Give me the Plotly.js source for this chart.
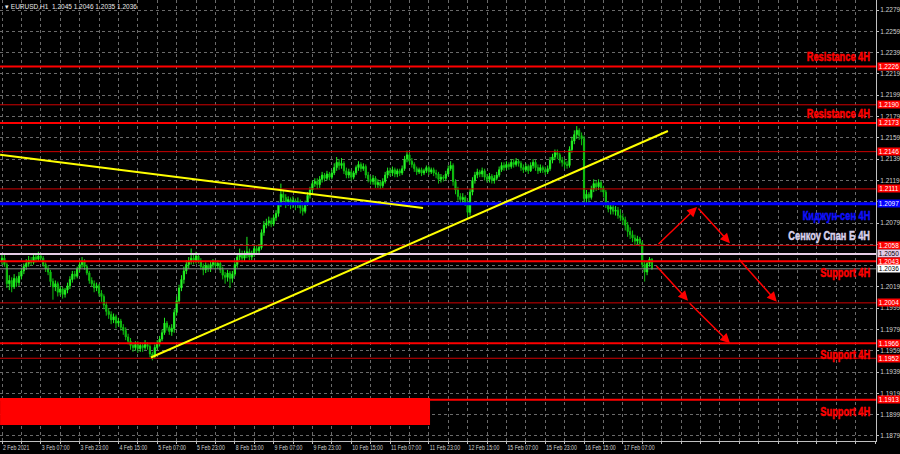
<!DOCTYPE html>
<html><head><meta charset="utf-8">
<script src="https://cdn.plot.ly/plotly-3.0.1.min.js"></script>
<style>html,body{margin:0;padding:0;background:#000;}#c{width:900px;height:454px;}</style>
</head><body><div id="c"></div>
<script>
// ---- data (EURUSD H1, first bar = 2 Feb 2021 15:00) ----
const barOpen = [
1.2043,1.2046,1.2040,1.2022,1.2025,1.2019,1.2027,1.2023,1.2029,1.2034,
1.2038,1.2041,1.2044,1.2042,1.2047,1.2045,1.2048,1.2046,1.2040,1.2036,
1.2033,1.2024,1.2019,1.2022,1.2014,1.2017,1.2012,1.2016,1.2020,1.2026,
1.2031,1.2029,1.2036,1.2040,1.2043,1.2038,1.2032,1.2025,1.2022,1.2018,
1.2020,1.2013,1.2010,1.2002,1.1996,1.1993,1.1988,1.1991,1.1985,1.1987,
1.1981,1.1978,1.1972,1.1968,1.1964,1.1962,1.1965,1.1961,1.1964,1.1962,
1.1965,1.1963,1.1956,1.1954,1.1962,1.1966,1.1970,1.1976,1.1985,1.1981,
1.1977,1.1980,1.1995,1.2006,1.2018,1.2026,1.2034,1.2040,1.2043,1.2046,
1.2044,1.2048,1.2043,1.2038,1.2035,1.2039,1.2036,1.2040,1.2042,1.2039,
1.2041,1.2035,1.2030,1.2028,1.2032,1.2027,1.2031,1.2040,1.2047,1.2050,
1.2046,1.2049,1.2052,1.2047,1.2050,1.2055,1.2053,1.2056,1.2070,1.2077,
1.2079,1.2081,1.2078,1.2084,1.2088,1.2096,1.2106,1.2103,1.2099,1.2101,
1.2097,1.2100,1.2096,1.2099,1.2093,1.2090,1.2097,1.2105,1.2110,1.2116,
1.2118,1.2115,1.2120,1.2124,1.2121,1.2125,1.2122,1.2126,1.2131,1.2136,
1.2133,1.2135,1.2128,1.2124,1.2127,1.2122,1.2126,1.2131,1.2134,1.2130,
1.2132,1.2124,1.2120,1.2118,1.2121,1.2115,1.2117,1.2114,1.2118,1.2124,
1.2128,1.2126,1.2129,1.2125,1.2128,1.2126,1.2130,1.2139,1.2143,1.2137,
1.2134,1.2130,1.2127,1.2129,1.2126,1.2128,1.2131,1.2127,1.2129,1.2126,
1.2125,1.2120,1.2122,1.2121,1.2125,1.2130,1.2133,1.2118,1.2110,1.2104,
1.2101,1.2103,1.2098,1.2089,1.2108,1.2119,1.2124,1.2127,1.2125,1.2128,
1.2122,1.2120,1.2123,1.2119,1.2121,1.2124,1.2129,1.2133,1.2131,1.2134,
1.2132,1.2136,1.2134,1.2137,1.2135,1.2131,1.2129,1.2132,1.2128,1.2133,
1.2136,1.2131,1.2128,1.2131,1.2129,1.2127,1.2130,1.2138,1.2141,1.2145,
1.2143,1.2138,1.2136,1.2134,1.2133,1.2148,1.2156,1.2162,1.2166,1.2161,
1.2158,1.2102,1.2106,1.2103,1.2111,1.2116,1.2113,1.2117,1.2112,1.2108,
1.2096,1.2092,1.2094,1.2090,1.2091,1.2086,1.2084,1.2082,1.2077,1.2071,
1.2068,1.2065,1.2062,1.2064,1.2060,1.2040,1.2033,1.2041,1.2045];
const barHigh = [
1.2050,1.2049,1.2042,1.2030,1.2028,1.2031,1.2029,1.2033,1.2037,1.2041,
1.2045,1.2048,1.2047,1.2050,1.2049,1.2052,1.2050,1.2048,1.2042,1.2039,
1.2035,1.2027,1.2025,1.2024,1.2020,1.2019,1.2018,1.2023,1.2029,1.2034,
1.2034,1.2038,1.2044,1.2047,1.2045,1.2040,1.2034,1.2028,1.2025,1.2023,
1.2022,1.2016,1.2012,1.2005,1.1999,1.1996,1.1994,1.1993,1.1990,1.1989,
1.1984,1.1981,1.1975,1.1971,1.1967,1.1968,1.1968,1.1967,1.1966,1.1969,
1.1967,1.1965,1.1958,1.1965,1.1969,1.1973,1.1979,1.1990,1.1987,1.1983,
1.1984,1.1998,1.2010,1.2021,1.2030,1.2038,1.2044,1.2047,1.2055,1.2049,
1.2052,1.2050,1.2046,1.2041,1.2042,1.2041,1.2043,1.2045,1.2044,1.2044,
1.2043,1.2038,1.2033,1.2035,1.2034,1.2034,1.2043,1.2050,1.2055,1.2053,
1.2053,1.2066,1.2055,1.2053,1.2058,1.2058,1.2059,1.2073,1.2081,1.2083,
1.2085,1.2084,1.2087,1.2091,1.2099,1.2116,1.2110,1.2106,1.2104,1.2103,
1.2104,1.2102,1.2103,1.2101,1.2096,1.2100,1.2108,1.2113,1.2119,1.2121,
1.2121,1.2123,1.2127,1.2126,1.2128,1.2127,1.2129,1.2135,1.2141,1.2139,
1.2140,1.2137,1.2131,1.2130,1.2129,1.2128,1.2133,1.2137,1.2136,1.2135,
1.2134,1.2127,1.2123,1.2124,1.2123,1.2120,1.2119,1.2121,1.2127,1.2131,
1.2131,1.2132,1.2131,1.2130,1.2130,1.2133,1.2142,1.2147,1.2145,1.2140,
1.2136,1.2132,1.2131,1.2131,1.2130,1.2133,1.2133,1.2131,1.2131,1.2129,
1.2127,1.2125,1.2124,1.2128,1.2133,1.2137,1.2135,1.2120,1.2113,1.2107,
1.2107,1.2105,1.2100,1.2111,1.2122,1.2127,1.2130,1.2129,1.2131,1.2130,
1.2125,1.2126,1.2125,1.2124,1.2127,1.2132,1.2136,1.2136,1.2137,1.2136,
1.2139,1.2139,1.2140,1.2139,1.2137,1.2134,1.2135,1.2134,1.2136,1.2139,
1.2138,1.2134,1.2134,1.2133,1.2132,1.2133,1.2141,1.2144,1.2148,1.2148,
1.2145,1.2141,1.2139,1.2137,1.2151,1.2160,1.2166,1.2170,1.2168,1.2164,
1.2161,1.2110,1.2108,1.2114,1.2120,1.2119,1.2120,1.2119,1.2114,1.2110,
1.2099,1.2098,1.2097,1.2095,1.2094,1.2092,1.2088,1.2085,1.2080,1.2075,
1.2072,1.2068,1.2067,1.2066,1.2062,1.2044,1.2043,1.2047,1.2046];
const barLow = [
1.2040,1.2038,1.2018,1.2016,1.2014,1.2017,1.2019,1.2020,1.2026,1.2031,
1.2035,1.2038,1.2039,1.2040,1.2042,1.2043,1.2043,1.2038,1.2033,1.2030,
1.2020,1.2007,1.2015,1.2010,1.2011,1.2008,1.2009,1.2013,1.2017,1.2023,
1.2026,1.2027,1.2033,1.2037,1.2035,1.2030,1.2022,1.2019,1.2014,1.2015,
1.2010,1.2005,1.1998,1.1992,1.1989,1.1984,1.1985,1.1980,1.1982,1.1978,
1.1974,1.1969,1.1965,1.1960,1.1958,1.1959,1.1957,1.1958,1.1958,1.1960,
1.1960,1.1953,1.1950,1.1952,1.1960,1.1963,1.1968,1.1974,1.1978,1.1974,
1.1973,1.1976,1.1992,1.2003,1.2015,1.2022,1.2031,1.2036,1.2040,1.2040,
1.2041,1.2041,1.2035,1.2030,1.2032,1.2033,1.2033,1.2037,1.2035,1.2036,
1.2032,1.2026,1.2022,1.2024,1.2018,1.2023,1.2029,1.2037,1.2044,1.2042,
1.2043,1.2046,1.2044,1.2044,1.2047,1.2049,1.2050,1.2054,1.2067,1.2074,
1.2076,1.2075,1.2076,1.2081,1.2085,1.2094,1.2099,1.2093,1.2095,1.2092,
1.2093,1.2091,1.2093,1.2088,1.2086,1.2088,1.2095,1.2102,1.2107,1.2113,
1.2111,1.2112,1.2117,1.2118,1.2119,1.2119,1.2120,1.2124,1.2128,1.2129,
1.2130,1.2125,1.2121,1.2121,1.2119,1.2120,1.2124,1.2128,1.2127,1.2128,
1.2121,1.2117,1.2115,1.2115,1.2112,1.2112,1.2111,1.2112,1.2116,1.2121,
1.2123,1.2123,1.2122,1.2122,1.2123,1.2124,1.2128,1.2136,1.2134,1.2131,
1.2127,1.2124,1.2125,1.2123,1.2124,1.2126,1.2124,1.2125,1.2123,1.2121,
1.2116,1.2117,1.2118,1.2119,1.2123,1.2128,1.2114,1.2106,1.2100,1.2097,
1.2097,1.2095,1.2083,1.2086,1.2105,1.2116,1.2121,1.2122,1.2122,1.2119,
1.2117,1.2117,1.2116,1.2116,1.2119,1.2122,1.2127,1.2128,1.2129,1.2129,
1.2130,1.2131,1.2132,1.2132,1.2128,1.2126,1.2127,1.2125,1.2127,1.2130,
1.2128,1.2125,1.2126,1.2126,1.2124,1.2125,1.2128,1.2135,1.2138,1.2139,
1.2135,1.2132,1.2130,1.2130,1.2131,1.2145,1.2153,1.2158,1.2157,1.2152,
1.2096,1.2097,1.2098,1.2101,1.2108,1.2109,1.2110,1.2108,1.2103,1.2093,
1.2089,1.2087,1.2087,1.2086,1.2083,1.2081,1.2077,1.2072,1.2066,1.2064,
1.2061,1.2058,1.2059,1.2057,1.2037,1.2024,1.2030,1.2038,1.2035];
const barClose = [
1.2046,1.2040,1.2022,1.2025,1.2019,1.2027,1.2023,1.2029,1.2034,1.2038,
1.2041,1.2044,1.2042,1.2047,1.2045,1.2048,1.2046,1.2040,1.2036,1.2033,
1.2024,1.2019,1.2022,1.2014,1.2017,1.2012,1.2016,1.2020,1.2026,1.2031,
1.2029,1.2036,1.2040,1.2043,1.2038,1.2032,1.2025,1.2022,1.2018,1.2020,
1.2013,1.2010,1.2002,1.1996,1.1993,1.1988,1.1991,1.1985,1.1987,1.1981,
1.1978,1.1972,1.1968,1.1964,1.1962,1.1965,1.1961,1.1964,1.1962,1.1965,
1.1963,1.1956,1.1954,1.1962,1.1966,1.1970,1.1976,1.1985,1.1981,1.1977,
1.1980,1.1995,1.2006,1.2018,1.2026,1.2034,1.2040,1.2043,1.2046,1.2044,
1.2048,1.2043,1.2038,1.2035,1.2039,1.2036,1.2040,1.2042,1.2039,1.2041,
1.2035,1.2030,1.2028,1.2032,1.2027,1.2031,1.2040,1.2047,1.2050,1.2046,
1.2049,1.2052,1.2047,1.2050,1.2055,1.2053,1.2056,1.2070,1.2077,1.2079,
1.2081,1.2078,1.2084,1.2088,1.2096,1.2106,1.2103,1.2099,1.2101,1.2097,
1.2100,1.2096,1.2099,1.2093,1.2090,1.2097,1.2105,1.2110,1.2116,1.2118,
1.2115,1.2120,1.2124,1.2121,1.2125,1.2122,1.2126,1.2131,1.2136,1.2133,
1.2135,1.2128,1.2124,1.2127,1.2122,1.2126,1.2131,1.2134,1.2130,1.2132,
1.2124,1.2120,1.2118,1.2121,1.2115,1.2117,1.2114,1.2118,1.2124,1.2128,
1.2126,1.2129,1.2125,1.2128,1.2126,1.2130,1.2139,1.2143,1.2137,1.2134,
1.2130,1.2127,1.2129,1.2126,1.2128,1.2131,1.2127,1.2129,1.2126,1.2125,
1.2120,1.2122,1.2121,1.2125,1.2130,1.2133,1.2118,1.2110,1.2104,1.2101,
1.2103,1.2098,1.2089,1.2108,1.2119,1.2124,1.2127,1.2125,1.2128,1.2122,
1.2120,1.2123,1.2119,1.2121,1.2124,1.2129,1.2133,1.2131,1.2134,1.2132,
1.2136,1.2134,1.2137,1.2135,1.2131,1.2129,1.2132,1.2128,1.2133,1.2136,
1.2131,1.2128,1.2131,1.2129,1.2127,1.2130,1.2138,1.2141,1.2145,1.2143,
1.2138,1.2136,1.2134,1.2133,1.2148,1.2156,1.2162,1.2166,1.2161,1.2158,
1.2102,1.2106,1.2103,1.2111,1.2116,1.2113,1.2117,1.2112,1.2108,1.2096,
1.2092,1.2094,1.2090,1.2091,1.2086,1.2084,1.2082,1.2077,1.2071,1.2068,
1.2065,1.2062,1.2064,1.2060,1.2040,1.2033,1.2041,1.2045,1.2036];

// time-axis labels, one every 16 H1 bars starting at bar 0
const timeLabels = ["2 Feb 2021","3 Feb 07:00","3 Feb 23:00","4 Feb 15:00","5 Feb 07:00","5 Feb 23:00",
"8 Feb 15:00","9 Feb 07:00","9 Feb 23:00","10 Feb 15:00","11 Feb 07:00","11 Feb 23:00",
"12 Feb 15:00","15 Feb 07:00","15 Feb 23:00","16 Feb 15:00","17 Feb 07:00"];
const priceTicks = [1.1879,1.1899,1.1919,1.1939,1.1959,1.1979,1.1999,1.2019,1.2039,1.2059,1.2079,
1.2099,1.2119,1.2139,1.2159,1.2179,1.2199,1.2219,1.2239,1.2259,1.2279];
const hiddenPriceTicks = [1.2039,1.2059,1.2099];

// horizontal levels
const levelPrices = [1.2226,1.2190,1.2173,1.2146,1.2111,1.2097,1.2058,1.2050,1.2043,1.2036,1.2004,1.1966,1.1952,1.1913];
const levelKinds  = ["r2","r1","r2","r1","r1","kijun","r1","senkou","r2","bid","r1","r2","r1","r2"];
const levelLabelText  = ["Resistance 4H","Resistance 4H","Киджун-сен 4H","Сенкоу Спан Б 4H","Support 4H","Support 4H","Support 4H"];
const levelLabelPrice = [1.2226,1.2173,1.2097,1.2058,1.2043,1.1966,1.1913];
const levelLabelSide  = [1,1,-1,1,-1,-1,-1];
const levelLabelKind  = ["red","red","blue","senkou","red","red","red"];

// trend lines [bar0, price0, bar1, price1]
const trendDown = [-0.8, 1.2143, 173.6, 1.2093];
const trendUp   = [61.4, 1.19527, 274.6, 1.21654];
// forecast arrows [bar, price]
const arrowFrom = [[270.1,1.2058],[286.6,1.2094],[269.3,1.2040],[282.9,1.2005],[303.5,1.2046]];
const arrowTo   = [[286.6,1.2094],[300.2,1.2060],[282.9,1.2006],[300.2,1.1966],[319.5,1.2005]];
// support zone [barStart, barEnd, priceLow, priceHigh]
const zone = [-0.8, 176.5, 1.18893, 1.19147];

const X_MIN = -0.83, X_MAX = 360.4, Y_MIN = 1.18743, Y_MAX = 1.22884;

const idx = barClose.map((_, i) => i);
const tickvals = [], ticktext = [];
for (let t = 0; t <= X_MAX; t += 8) {
  tickvals.push(t);
  const k = t / 16;
  ticktext.push(Number.isInteger(k) && k < timeLabels.length ? timeLabels[k] : "");
}

const kindStyle = {
  r2: {color:"#ff0000", width:2, bg:"#ff0000", fc:"#ffffff"},
  r1: {color:"#d00000", width:1, bg:"#ff0000", fc:"#ffffff"},
  kijun: {color:"#0000ff", width:3, bg:"#0000ff", fc:"#ffffff"},
  senkou: {color:"#e6cce6", width:2, bg:"#e6cce6", fc:"#000000"},
  bid: {color:"#8c8c8c", width:1, bg:"#ffffff", fc:"#000000"}
};
const labelColor = {red:"#ff0000", blue:"#1010ff", senkou:"#d8d2ec"};

const shapes = [];
shapes.push({type:"rect", xref:"x", yref:"y", x0:zone[0], x1:zone[1], y0:zone[2], y1:zone[3],
  fillcolor:"#ff0000", line:{width:0}, layer:"above"});
levelPrices.forEach((p, i) => {
  const s = kindStyle[levelKinds[i]];
  shapes.push({type:"line", xref:"paper", x0:0, x1:1, yref:"y", y0:p, y1:p,
    line:{color:s.color, width:s.width}, layer:"above"});
});
[trendDown, trendUp].forEach(t => shapes.push({type:"line", xref:"x", yref:"y",
  x0:t[0], y0:t[1], x1:t[2], y1:t[3], line:{color:"#ffff00", width:2}, layer:"above"}));

const annotations = [];
levelPrices.forEach((p, i) => {
  const s = kindStyle[levelKinds[i]];
  annotations.push({xref:"paper", x:1, xanchor:"left", xshift:1, yref:"y", y:p, yanchor:"middle",
    text:p.toFixed(4), showarrow:false, bgcolor:s.bg, width:22, height:7, borderpad:0,
    font:{family:"Liberation Sans, Arial", size:6.5, color:s.fc}, align:"center"});
});
const labelStart = annotations.length;
levelLabelText.forEach((t, i) => {
  annotations.push({xref:"paper", x:871/876, xanchor:"right", yref:"y", y:levelLabelPrice[i],
    yanchor: levelLabelSide[i] > 0 ? "bottom" : "top", yshift: levelLabelSide[i] > 0 ? 1 : -3,
    text:t, showarrow:false, borderpad:0,
    font:{family:"Liberation Sans, Arial, sans-serif", size:13, weight:"bold", color:labelColor[levelLabelKind[i]]}});
});
arrowFrom.forEach((f, i) => {
  const t = arrowTo[i];
  annotations.push({xref:"x", yref:"y", x:t[0], y:t[1], axref:"x", ayref:"y", ax:f[0], ay:f[1],
    showarrow:true, arrowhead:2, arrowsize:1.3, arrowwidth:1.5, arrowcolor:"#ff0000", text:""});
});
const last = barClose.length - 1;
annotations.push({xref:"paper", yref:"paper", x:0, y:1, xanchor:"left", yanchor:"top", xshift:3, yshift:-1,
  showarrow:false, text:"▾ EURUSD,H1  " + [barOpen[last],barHigh[last],barLow[last],barClose[last]].map(v=>v.toFixed(4)).join(" "),
  font:{family:"Liberation Sans, Arial", size:6.5, color:"#e8e8e8"}});

const trace = {
  type:"candlestick", x:idx, open:barOpen, high:barHigh, low:barLow, close:barClose,
  increasing:{line:{color:"#20f020", width:1}, fillcolor:"#40ff40"},
  decreasing:{line:{color:"#10c010", width:1}, fillcolor:"#10b810"},
  whiskerwidth:0, hoverinfo:"skip"
};

const layout = {
  width:900, height:454, paper_bgcolor:"#000000", plot_bgcolor:"#000000",
  margin:{l:0, r:24, t:0, b:13}, showlegend:false,
  xaxis:{range:[X_MIN, X_MAX], tickmode:"array", tickvals:tickvals, ticktext:ticktext, tickangle:0,
    ticklabelposition:"outside right", showgrid:true, gridcolor:"#6a6a6a", griddash:"3px,3px", gridwidth:1,
    showline:true, linecolor:"#c0c0c0", linewidth:1, ticks:"outside", ticklen:2, tickcolor:"#c0c0c0",
    tickfont:{family:"Liberation Sans, Arial", size:6.5, color:"#d0d0d0"}, zeroline:false,
    rangeslider:{visible:false}, fixedrange:true, automargin:false},
  yaxis:{range:[Y_MIN, Y_MAX], side:"right", tickmode:"array", tickvals:priceTicks,
    ticktext:priceTicks.map(v => hiddenPriceTicks.includes(v) ? "" : v.toFixed(4)),
    showgrid:true, gridcolor:"#6a6a6a", griddash:"3px,3px",
    showline:true, linecolor:"#c0c0c0", linewidth:1, ticks:"outside", ticklen:2, tickcolor:"#c0c0c0",
    tickfont:{family:"Liberation Sans, Arial", size:6.5, color:"#d0d0d0"}, zeroline:false, fixedrange:true,
    automargin:false},
  shapes:shapes, annotations:annotations
};

function squeeze(tx, k, keep) {
  // keep: "right" keeps right edge, "left" keeps left edge (text-anchor start)
  const W = tx.getComputedTextLength();
  const w = W * k;
  tx.setAttribute("textLength", w.toFixed(1));
  tx.setAttribute("lengthAdjust", "spacingAndGlyphs");
  if (keep === "right") tx.setAttribute("transform", "translate(" + ((W - w) / 2).toFixed(1) + ",0)");
}

Plotly.newPlot("c", [trace], layout, {staticPlot:true, displayModeBar:false}).then(gd => {
  levelLabelText.forEach((t, i) => {
    const g = gd.querySelector('g.annotation[data-index="' + (labelStart + i) + '"]');
    const tx = g && g.querySelector("text");
    if (!tx) return;
    tx.style.fontWeight = "900";
    const col = labelColor[levelLabelKind[i]];
    tx.style.stroke = col;
    tx.style.strokeWidth = "0.5px";
    squeeze(tx, 0.71, "right");
  });
  gd.querySelectorAll("g.xtick text").forEach(tx => { if (tx.textContent) squeeze(tx, 0.8, "left"); });
});
</script></body></html>
